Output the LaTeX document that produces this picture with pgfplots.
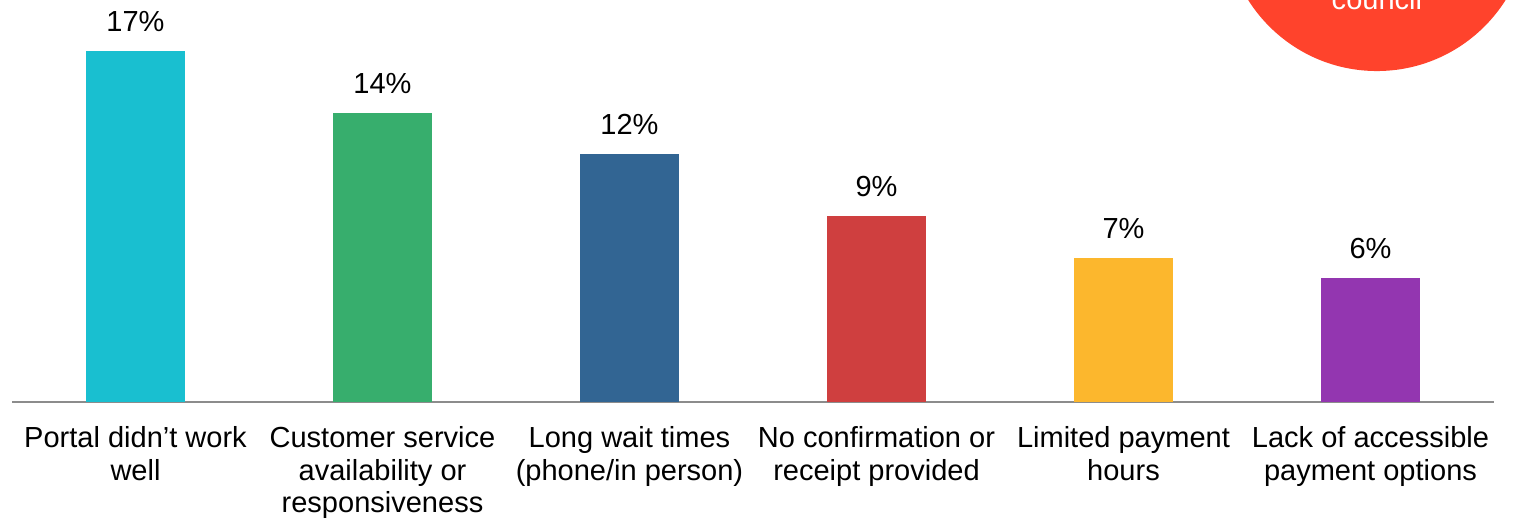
\documentclass[border=0pt]{standalone}
\usepackage{pgfplots}
\pgfplotsset{compat=1.18}
\usepackage{fontspec}
\setmainfont{Liberation Sans}

\definecolor{cCyan}{HTML}{19BFD0}
\definecolor{cGreen}{HTML}{37AE6D}
\definecolor{cBlue}{HTML}{326593}
\definecolor{cRed}{HTML}{CF3F3F}
\definecolor{cYellow}{HTML}{FCB72D}
\definecolor{cPurple}{HTML}{9336B0}
\definecolor{cBadge}{HTML}{FF432C}
\definecolor{cAxis}{HTML}{8C8C8C}

\newcommand{\lbl}{\fontsize{14.5}{16.3}\selectfont}

\begin{document}
\begin{tikzpicture}
\begin{axis}[
  at={(0,0)}, anchor=south west,
  scale only axis,
  width=740.5pt, height=201pt,
  xmin=-0.5, xmax=5.5,
  ymin=0, ymax=19.47,
  ybar, bar width=0.4, bar shift=0pt,
  axis y line=none,
  axis x line*=bottom,
  x axis line style={cAxis, line width=1pt, -},
  xtick={0,1,2,3,4,5},
  xticklabels={
    {Portal didn’t work\\well},
    {Customer service\\availability or\\responsiveness},
    {Long wait times\\(phone/in person)},
    {No confirmation or\\receipt provided},
    {Limited payment\\hours},
    {Lack of accessible\\payment options}},
  major tick length=0pt,
  xticklabel style={font=\lbl, align=center, anchor=north, inner sep=0pt, yshift=-12pt, text=black},
  /pgf/number format/assume math mode=true,
  nodes near coords={\pgfmathprintnumber{\pgfplotspointmeta}\%},
  every node near coord/.append style={font=\lbl, text=black, anchor=south, inner sep=0pt, yshift=9.5pt},
  clip=false,
]
\addplot[fill=cCyan, draw=none] coordinates {(0,17)};
\addplot[fill=cGreen, draw=none] coordinates {(1,14)};
\addplot[fill=cBlue, draw=none] coordinates {(2,12)};
\addplot[fill=cRed, draw=none] coordinates {(3,9)};
\addplot[fill=cYellow, draw=none] coordinates {(4,7)};
\addplot[fill=cPurple, draw=none] coordinates {(5,6)};
\end{axis}
% badge in the top right corner, cut by the page edge
\begin{scope}
  \clip (-6pt,-58pt) rectangle (755.5pt,201pt);
  \fill[cBadge] (682pt,241.5pt) circle (76pt);
  \node[font=\lbl, text=white, anchor=base] at (682pt,196pt) {council};
\end{scope}
\pgfresetboundingbox
\path[use as bounding box] (-6pt,-58pt) rectangle (755.5pt,201pt);
\end{tikzpicture}
\end{document}
